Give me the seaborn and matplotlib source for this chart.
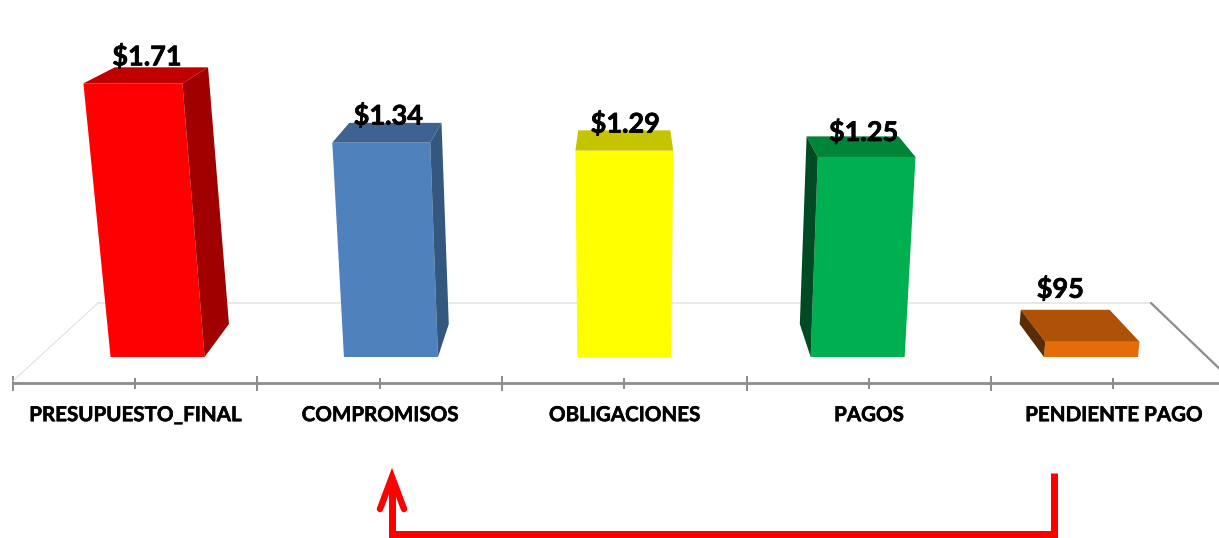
"""Perspective column chart of the budget execution, built on a seaborn barplot."""

import matplotlib

matplotlib.use("Agg")
import matplotlib.patheffects as pe
import matplotlib.pyplot as plt
import numpy as np
import pandas as pd
import seaborn as sns
from matplotlib.transforms import Affine2D, Transform

categories = ["PRESUPUESTO_FINAL", "COMPROMISOS", "OBLIGACIONES", "PAGOS", "PENDIENTE PAGO"]
values = [1.71, 1.34, 1.29, 1.25, 0.095]
value_labels = ["$1.71", "$1.34", "$1.29", "$1.25", "$95"]

front_colors = ["#FF0000", "#4F81BD", "#FFFF00", "#00B050", "#E46C0A"]
top_colors = ["#C00000", "#3E6390", "#C4C400", "#008437", "#AE5208"]
side_colors = ["#A00000", "#345780", "#C4C400", "#004B23", "#5B2C04"]

# label shift from the front top centre of each bar, in pixels
label_dx = [14, 7, 1, -3, -32]
label_dy = [27, 27, 27, 25, 53]

WIDTH, HEIGHT = 1219, 538
PX = 72 / 100
BAR_WIDTH = 0.403
MIDDLE = 2.0
pixels = Affine2D().scale(1, -1).translate(0, HEIGHT)
heavier = [pe.withStroke(linewidth=0.5, foreground="black")]


def project(x, v, depth=0.0):
    """Map (category position, value, depth 0..1) to the tilted view, in data units."""
    x = np.asarray(x, dtype=float)
    v = np.asarray(v, dtype=float)
    scale = 0.954 * (1 + 0.0309 * v) * (1 - 0.058 * depth)
    return MIDDLE + (x - MIDDLE) * scale, v + depth * (0.206 - 0.0618 * v)


class Tilt(Transform):
    input_dims = output_dims = 2

    def transform_non_affine(self, values):
        xs, ys = project(values[:, 0], values[:, 1])
        return np.column_stack([xs, ys])


sns.set_theme(style="white")
plt.rcParams["font.family"] = ["Lato", "DejaVu Sans"]

data = pd.DataFrame({"category": categories, "value": values})

fig = plt.figure(figsize=(WIDTH / 100, HEIGHT / 100), dpi=100)
ax = fig.add_axes([12.8 / WIDTH, (HEIGHT - 383) / HEIGHT, 1223 / WIDTH, 383 / HEIGHT])
ax.patch.set_alpha(0)

sns.barplot(
    data, x="category", y="value", hue="category", palette=front_colors,
    width=BAR_WIDTH, saturation=1, linewidth=0, legend=False, ax=ax,
)

ax.set_xlim(-0.5, 4.5)
ax.set_ylim(-0.1625, 2.231)
ax.set(xlabel="", ylabel="", yticks=[])
sns.despine(ax=ax, left=True)

tilt = Tilt() + ax.transData
for i, bar in enumerate(ax.patches):
    bar.set_transform(tilt)
    bar.set_clip_on(False)
    bar.set_zorder(3)

    left, right = bar.get_x(), bar.get_x() + bar.get_width()
    height = bar.get_height()

    # top face
    tx, ty = project([left, right, right, left], height, np.array([0, 0, 1, 1]))
    ax.fill(tx, ty, color=top_colors[i], lw=0, zorder=3, clip_on=False)

    # side face, on the side facing the middle of the chart
    centre = (left + right) / 2
    if abs(centre - MIDDLE) > 0.01:
        edge = right if centre < MIDDLE else left
        sx, sy = project(edge, np.array([0, 0, height, height]), np.array([0, 1, 1, 0]))
        ax.fill(sx, sy, color=side_colors[i], lw=0, zorder=3, clip_on=False)

    lx, ly = project(centre, height)
    ax.annotate(
        value_labels[i], (lx, ly), xytext=(label_dx[i] * PX, label_dy[i] * PX),
        textcoords="offset points", ha="center", va="center",
        fontsize=19.5, fontweight="bold", color="black", zorder=5, annotation_clip=False,
        path_effects=heavier,
    )

# floor outline behind the bars
ax.plot([98, 1151], [303, 303], color="#E4E4E4", lw=1.2, transform=pixels, zorder=1, clip_on=False)
ax.plot([13, 98], [381, 303], color="#DDDDDD", lw=0.7, transform=pixels, zorder=1, clip_on=False)
ax.plot([1151, 1225], [303, 374], color="#8C8C8C", lw=1.6, transform=pixels, zorder=1, clip_on=False)

# axis and ticks
ax.spines["bottom"].set_color("#8C8C8C")
ax.spines["bottom"].set_linewidth(2.0)
ax.set_xticks(np.arange(-0.5, 5), minor=True)
ax.tick_params(axis="x", which="major", bottom=True, direction="inout", length=11 * PX, width=1.4,
               color="#8C8C8C", labelsize=14.8, pad=12, labelcolor="black")
ax.tick_params(axis="x", which="minor", bottom=True, direction="inout", length=15 * PX, width=1.4,
               color="#8C8C8C")
for label in ax.get_xticklabels():
    label.set_fontweight("bold")
    label.set_path_effects([pe.withStroke(linewidth=0.4, foreground="black")])

# red arrow from PENDIENTE PAGO back to COMPROMISOS
ax.plot([1054, 1054, 392, 392], [473, 534, 534, 485], color="#FF0000", lw=7 * PX,
        solid_joinstyle="miter", solid_capstyle="butt", transform=pixels, clip_on=False, zorder=4)
ax.plot([380, 392, 404], [509, 477, 509], color="#FF0000", lw=6.5 * PX,
        solid_joinstyle="miter", solid_capstyle="round", transform=pixels, clip_on=False, zorder=4)

fig.savefig("out.png", dpi=100)
plt.close(fig)
